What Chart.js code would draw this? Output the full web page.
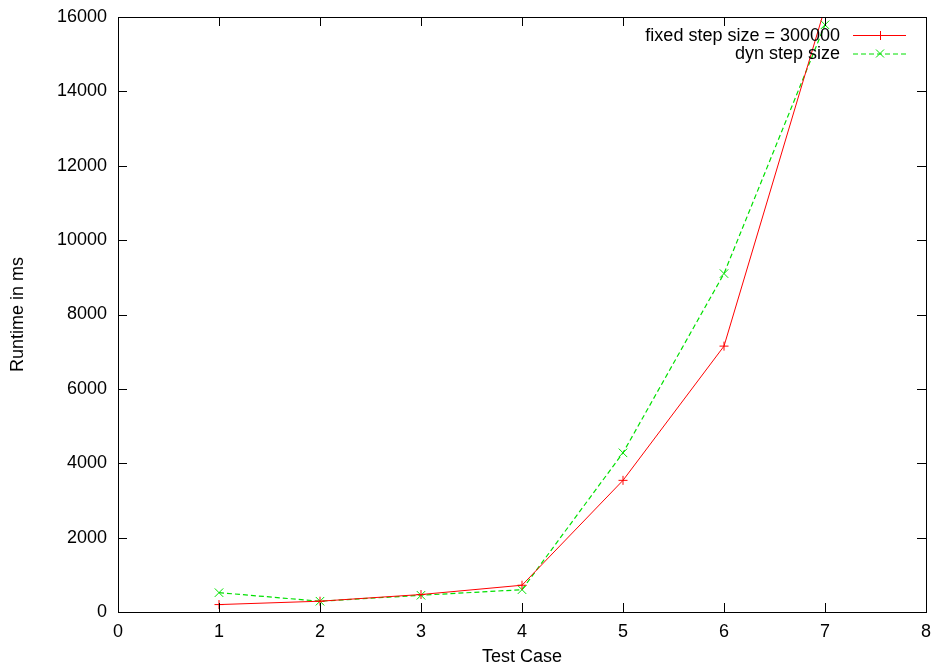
<!DOCTYPE html>
<html>
<head>
<meta charset="utf-8">
<script src="https://cdn.jsdelivr.net/npm/chart.js@4.4.1/dist/chart.umd.min.js"></script>
<style>
  html, body { margin: 0; padding: 0; background: #fff; }
  #wrap { width: 933px; height: 668px; }
</style>
</head>
<body>
<div id="wrap"><canvas id="chart" width="933" height="668"></canvas></div>
<script>
// test cases and runtimes (ms)
const testCases = [1, 2, 3, 4, 5, 6, 7];
const fixedStep = [200, 290, 470, 720, 3540, 7150, 16250];
const dynStep = [520, 290, 450, 600, 4280, 9100, 15790];
const seriesLabels = ['fixed step size = 300000', 'dyn step size'];

const FONT = { family: '"Liberation Sans", Arial, sans-serif', size: 18 };
const TICK_LEN = 9;

function toPoints(vals) {
  return testCases.map((x, i) => ({ x: x, y: vals[i] }));
}

// gnuplot-like frame: box + inward ticks on all four sides
const framePlugin = {
  id: 'frame',
  afterDatasetsDraw(chart) {
    const { ctx, chartArea: a, scales } = chart;
    ctx.save();
    ctx.strokeStyle = '#000';
    ctx.lineWidth = 1;
    ctx.beginPath();
    for (const t of scales.x.ticks) {
      const px = Math.round(scales.x.getPixelForValue(t.value)) + 0.5;
      ctx.moveTo(px, a.bottom); ctx.lineTo(px, a.bottom - TICK_LEN);
      ctx.moveTo(px, a.top); ctx.lineTo(px, a.top + TICK_LEN);
    }
    for (const t of scales.y.ticks) {
      const py = Math.round(scales.y.getPixelForValue(t.value)) + 0.5;
      ctx.moveTo(a.left, py); ctx.lineTo(a.left + TICK_LEN, py);
      ctx.moveTo(a.right, py); ctx.lineTo(a.right - TICK_LEN, py);
    }
    ctx.stroke();
    ctx.strokeRect(Math.round(a.left) + 0.5, Math.round(a.top) + 0.5,
      Math.round(a.right - a.left), Math.round(a.bottom - a.top));
    ctx.restore();
  }
};

// key in the top right corner, text left of the sample
const keyPlugin = {
  id: 'key',
  afterDraw(chart) {
    const { ctx } = chart;
    ctx.save();
    ctx.font = FONT.size + 'px ' + FONT.family;
    ctx.textAlign = 'right';
    ctx.textBaseline = 'middle';
    chart.data.datasets.forEach((ds, i) => {
      const y = 35 + i * 18.5;
      ctx.fillStyle = '#000';
      ctx.fillText(ds.label, 840, y + 1);
      ctx.strokeStyle = ds.borderColor;
      ctx.lineWidth = 1;
      ctx.setLineDash(ds.borderDash || []);
      ctx.beginPath();
      ctx.moveTo(853, y + 0.5); ctx.lineTo(906, y + 0.5);
      ctx.stroke();
      ctx.setLineDash([]);
      ctx.beginPath();
      if (ds.pointStyle === 'cross') {
        ctx.moveTo(880.5, y - 4); ctx.lineTo(880.5, y + 5);
      } else {
        ctx.moveTo(876, y - 4); ctx.lineTo(884, y + 4);
        ctx.moveTo(876, y + 4); ctx.lineTo(884, y - 4);
      }
      ctx.stroke();
    });
    ctx.restore();
  }
};

new Chart(document.getElementById('chart'), {
  type: 'line',
  data: {
    datasets: [
      {
        label: seriesLabels[0],
        data: toPoints(fixedStep),
        borderColor: '#ff0000',
        borderWidth: 1,
        pointStyle: 'cross',
        pointRadius: 4.5,
        pointBorderColor: '#ff0000',
        pointBorderWidth: 1,
        tension: 0,
      },
      {
        label: seriesLabels[1],
        data: toPoints(dynStep),
        borderColor: '#00e000',
        borderWidth: 1.2,
        borderDash: [5, 3],
        pointStyle: 'crossRot',
        pointRadius: 6,
        pointBorderColor: '#00e000',
        pointBorderWidth: 1,
        tension: 0,
      },
    ],
  },
  options: {
    responsive: false,
    animation: false,
    layout: { padding: { top: 17, right: 5, left: 0, bottom: 0 } },
    plugins: {
      legend: { display: false },
      tooltip: { enabled: false },
    },
    scales: {
      x: {
        type: 'linear',
        min: 0,
        max: 8,
        grid: { display: false, drawTicks: false },
        border: { display: false },
        ticks: { stepSize: 1, padding: 9, color: '#000', font: FONT, maxRotation: 0 },
        title: { display: true, text: 'Test Case', color: '#000', font: FONT, padding: { top: 0, bottom: 0 } },
        afterFit(scale) {
          scale.height = 56;
          scale.paddingLeft = 0;
          scale.paddingRight = 0;
        },
      },
      y: {
        min: 0,
        max: 16000,
        grid: { display: false, drawTicks: false },
        border: { display: false },
        ticks: {
          stepSize: 2000, padding: 11, color: '#000', font: FONT,
          callback: (v) => String(v),
        },
        title: { display: true, text: 'Runtime in ms', color: '#000', font: FONT, padding: { top: 7, bottom: 0 } },
        afterFit(scale) {
          scale.width = 118;
          scale.paddingTop = 0;
          scale.paddingBottom = 0;
        },
      },
    },
  },
  plugins: [framePlugin, keyPlugin],
});
</script>
</body>
</html>
